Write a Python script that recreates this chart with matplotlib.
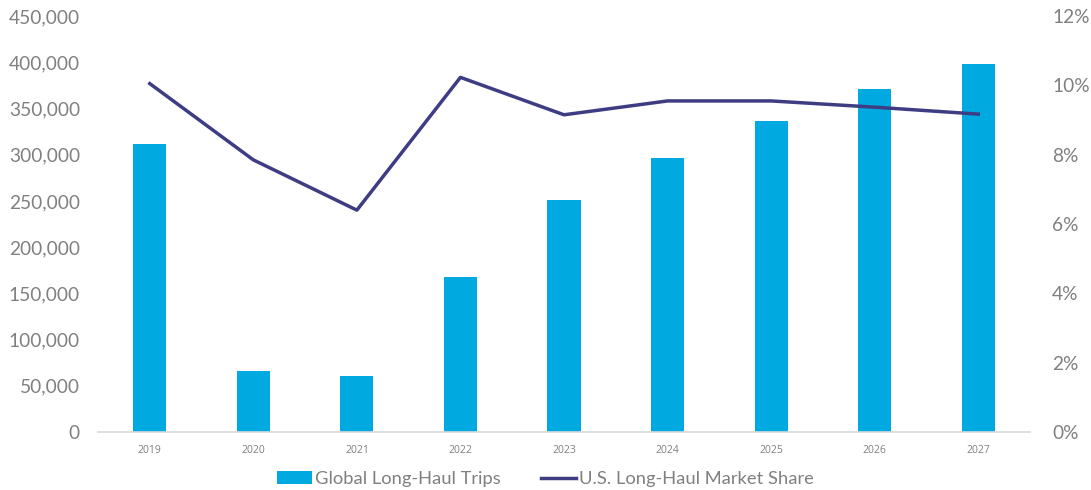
import matplotlib.pyplot as plt
from matplotlib.ticker import FuncFormatter

# Global long-haul trips vs U.S. share of the market
years = ["2019", "2020", "2021", "2022", "2023", "2024", "2025", "2026", "2027"]
global_trips = [311500, 66000, 60500, 167500, 251000, 296500, 336500, 371000, 398000]
us_share = [10.05, 7.85, 6.4, 10.23, 9.15, 9.55, 9.55, 9.37, 9.17]

bar_color = "#00a9e0"
line_color = "#3e3d84"
text_color = "#808080"

plt.rcParams['font.family'] = ['Lato', 'DejaVu Sans']

fig = plt.figure(figsize=(10.91, 4.9), dpi=100)
ax = fig.add_axes([98 / 1091, 58 / 490, 932 / 1091, 416 / 490])
ax2 = ax.twinx()

x = range(len(years))
bars = ax.bar(x, global_trips, width=0.32, color=bar_color, label="Global Long-Haul Trips", zorder=2)
line, = ax2.plot(x, us_share, color=line_color, linewidth=2.5, label="U.S. Long-Haul Market Share", zorder=3)

ax.set_xlim(-0.5, len(years) - 0.5)
ax.set_ylim(0, 450000)
ax.set_yticks(range(0, 450001, 50000))
ax.yaxis.set_major_formatter(FuncFormatter(lambda v, p: f"{int(v):,}"))
ax2.set_ylim(0, 12)
ax2.set_yticks(range(0, 13, 2))
ax2.yaxis.set_major_formatter(FuncFormatter(lambda v, p: f"{int(v)}%"))

ax.set_xticks(list(x))
ax.set_xticklabels(years, fontsize=7.5, color=text_color, family=['Open Sans', 'DejaVu Sans'])

for a in (ax, ax2):
    for s in a.spines.values():
        s.set_visible(False)
    a.tick_params(length=0)
ax.spines['bottom'].set_visible(True)
ax.spines['bottom'].set_color("#d9d9d9")
ax.spines['bottom'].set_linewidth(1.2)

ax.tick_params(axis='y', labelsize=13.8, labelcolor=text_color, pad=13)
ax.tick_params(axis='x', pad=9)
ax2.tick_params(axis='y', labelsize=13.8, labelcolor=text_color, pad=16)

fig.legend([bars, line], ["Global Long-Haul Trips", "U.S. Long-Haul Market Share"],
           loc='center', bbox_to_anchor=(0.5, 11 / 490), ncol=2, frameon=False,
           fontsize=13.2, labelcolor=text_color, handlelength=1.9, handletextpad=0.15,
           columnspacing=2.2)

fig.savefig("out.png", dpi=100)
